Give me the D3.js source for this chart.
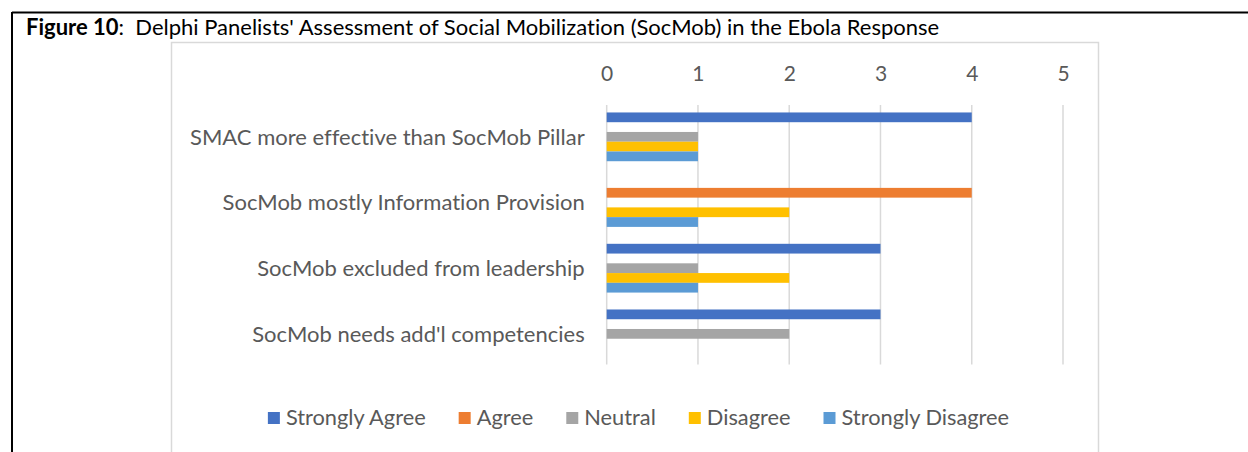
<!DOCTYPE html>
<html>
<head>
<meta charset="utf-8">
<script src="https://cdn.jsdelivr.net/npm/d3@7"></script>
<style>
  html, body { margin: 0; padding: 0; background: #fff; }
  svg { display: block; }
  text { font-variant-ligatures: none; }
  .title { white-space: pre; }
</style>
</head>
<body>
<svg id="chart" width="1248" height="452"></svg>
<script>
// ---- data ----
const categories = [
  "SMAC more effective than SocMob Pillar",
  "SocMob mostly Information Provision",
  "SocMob excluded from leadership",
  "SocMob needs add'l competencies"
];
const seriesNames = ["Strongly Agree", "Agree", "Neutral", "Disagree", "Strongly Disagree"];
const stronglyAgree    = [4, 0, 3, 3];
const agree            = [0, 4, 0, 0];
const neutral          = [1, 0, 1, 2];
const disagree         = [1, 2, 2, 0];
const stronglyDisagree = [1, 1, 1, 0];
const xTicks = [0, 1, 2, 3, 4, 5];
const seriesColors = ["#4472C4", "#ED7D31", "#A5A5A5", "#FFC000", "#5B9BD5"];

const seriesValues = [stronglyAgree, agree, neutral, disagree, stronglyDisagree];

// ---- layout ----
const svg = d3.select("#chart");
const FONT = "Lato, 'Open Sans', sans-serif";
const textGray = "#595959";

// outer document frame
svg.append("line").attr("x1", 12).attr("y1", 12.5).attr("x2", 1248).attr("y2", 12.5)
  .attr("stroke", "#000").attr("stroke-width", 2);
svg.append("line").attr("x1", 12).attr("y1", 12).attr("x2", 12).attr("y2", 452)
  .attr("stroke", "#000").attr("stroke-width", 2);

// title
const title = svg.append("text").attr("class", "title").attr("x", 26).attr("y", 35)
  .attr("font-family", FONT).attr("font-size", 22).attr("fill", "#000");
title.append("tspan").attr("font-weight", "bold").text("Figure 10");
title.append("tspan").text(":  Delphi Panelists' Assessment of Social Mobilization (SocMob) in the Ebola Response");

// chart frame
svg.append("rect").attr("x", 171.5).attr("y", 42.5).attr("width", 927).attr("height", 430)
  .attr("fill", "none").attr("stroke", "#D9D9D9").attr("stroke-width", 1.5);

const x = d3.scaleLinear().domain([0, 5]).range([606.7, 1063]);
const y = d3.scaleBand().domain(categories).range([104, 366.7]).paddingInner(0).paddingOuter(0);
const yInner = d3.scaleBand().domain(seriesNames).range([0, y.bandwidth()]).paddingInner(0).paddingOuter(0.867);

// gridlines
const gridTop = 105, gridBottom = 364.5;
svg.append("g").selectAll("line").data(xTicks).join("line")
  .attr("x1", d => x(d)).attr("x2", d => x(d))
  .attr("y1", gridTop).attr("y2", gridBottom)
  .attr("stroke", "#D9D9D9").attr("stroke-width", 1.5);

// top axis labels
const xAxis = d3.axisTop(x).tickValues(xTicks).tickSize(0).tickPadding(0).tickFormat(d3.format("d"));
const gx = svg.append("g").attr("transform", "translate(0,81)").call(xAxis);
gx.select(".domain").remove();
gx.selectAll("text").attr("font-family", FONT).attr("font-size", 21).attr("fill", textGray).attr("dy", 0);

// bars
const rows = [];
categories.forEach((c, ci) => {
  seriesNames.forEach((s, si) => {
    rows.push({ cat: c, series: s, value: seriesValues[si][ci], color: seriesColors[si] });
  });
});
svg.append("g").selectAll("rect").data(rows.filter(d => d.value > 0)).join("rect")
  .attr("x", x(0))
  .attr("y", d => y(d.cat) + yInner(d.series))
  .attr("width", d => x(d.value) - x(0))
  .attr("height", yInner.bandwidth())
  .attr("fill", d => d.color);

// category labels
const yAxis = d3.axisLeft(y).tickSize(0).tickPadding(22);
const gy = svg.append("g").attr("transform", `translate(${x(0)},0)`).call(yAxis);
gy.select(".domain").remove();
gy.selectAll("text").attr("font-family", FONT).attr("font-size", 22).attr("fill", textGray).attr("dy", "0.35em");

// legend
const legend = svg.append("g");
const items = legend.selectAll("g").data(seriesNames).join("g");
items.append("rect").attr("width", 12).attr("height", 12).attr("y", 412)
  .attr("fill", (d, i) => seriesColors[i]);
items.append("text").attr("x", 18).attr("y", 425)
  .attr("font-family", FONT).attr("font-size", 21.8).attr("fill", textGray).text(d => d);
const widths = [];
items.each(function () {
  const w = 18 + d3.select(this).select("text").node().getComputedTextLength();
  widths.push(w);
});
const gap = 33;
const total = d3.sum(widths) + gap * (widths.length - 1);
let start = 638.5 - total / 2;
items.attr("transform", (d, i) => {
  const t = `translate(${start},0)`;
  start += widths[i] + gap;
  return t;
});
</script>
</body>
</html>
